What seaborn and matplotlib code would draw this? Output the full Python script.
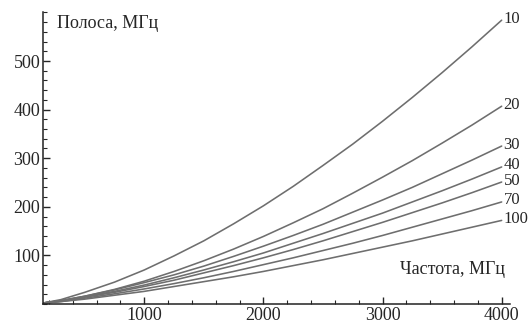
import matplotlib
matplotlib.use("Agg")
import matplotlib.pyplot as plt
from matplotlib.ticker import MultipleLocator
import seaborn as sns
import pandas as pd

# частота, МГц
freq = [150, 300, 500, 750, 1000, 1250, 1500, 1750, 2000, 2250,
        2500, 2750, 3000, 3250, 3500, 3750, 4000]

# полоса, МГц для каждой кривой
band_10 = [2, 9, 24, 45, 70, 99, 130, 165, 202, 242, 285, 329, 376, 425, 476, 529, 584]
band_20 = [2, 7, 16, 30, 47, 67, 89, 113, 139, 167, 196, 228, 261, 295, 331, 368, 407]
band_30 = [2, 7, 16, 29, 44, 60, 78, 98, 119, 141, 164, 189, 214, 240, 268, 296, 325]
band_40 = [2, 6, 15, 26, 39, 54, 70, 87, 105, 125, 145, 166, 187, 210, 233, 257, 282]
band_50 = [2, 6, 14, 24, 36, 49, 64, 79, 95, 112, 130, 149, 168, 188, 208, 229, 251]
band_70 = [2, 5, 12, 21, 31, 42, 54, 67, 81, 95, 110, 125, 141, 158, 175, 192, 210]
band_100 = [2, 5, 10, 18, 26, 36, 46, 56, 67, 79, 91, 104, 117, 130, 144, 158, 172]

curve_labels = ["10", "20", "30", "40", "50", "70", "100"]
curves = [band_10, band_20, band_30, band_40, band_50, band_70, band_100]

rows = []
for lab, vals in zip(curve_labels, curves):
    for f, v in zip(freq, vals):
        rows.append({"freq": f, "band": v, "curve": lab})
df = pd.DataFrame(rows)

sns.set_style("ticks")
plt.rcParams['font.family'] = ['Liberation Serif', 'DejaVu Serif']
plt.rcParams['font.size'] = 13

fig = plt.figure(figsize=(5.28, 3.24), dpi=100)
ax = fig.add_axes([0.0814, 0.0617, 0.8845, 0.900])

gray = "#6e6e6e"
sns.lineplot(data=df, x="freq", y="band", hue="curve",
             palette=[gray] * len(curve_labels), linewidth=1.15,
             legend=False, ax=ax)

ax.set_xlim(150, 4070)
ax.set_ylim(0, 600)
ax.xaxis.set_major_locator(MultipleLocator(1000))
ax.xaxis.set_minor_locator(MultipleLocator(200))
ax.set_yticks([100, 200, 300, 400, 500])
ax.yaxis.set_minor_locator(MultipleLocator(20))
ax.tick_params(which="major", direction="in", length=5, width=1, labelsize=13, pad=2)
ax.tick_params(which="minor", direction="in", length=3, width=0.8)
sns.despine(ax=ax)
for s in ["left", "bottom"]:
    ax.spines[s].set_color("#222222")
    ax.spines[s].set_linewidth(1.1)

ax.set_xlabel("")
ax.set_ylabel("")

for lab, vals in zip(curve_labels, curves):
    ax.text(freq[-1] + 15, vals[-1] + 3, lab, ha="left", va="center",
            fontsize=12, clip_on=False)

ax.text(270, 578, "Полоса, МГц", ha="left", va="center", fontsize=13)
ax.text(4030, 70, "Частота, МГц", ha="right", va="center", fontsize=13)

fig.savefig("out.png", dpi=100)
